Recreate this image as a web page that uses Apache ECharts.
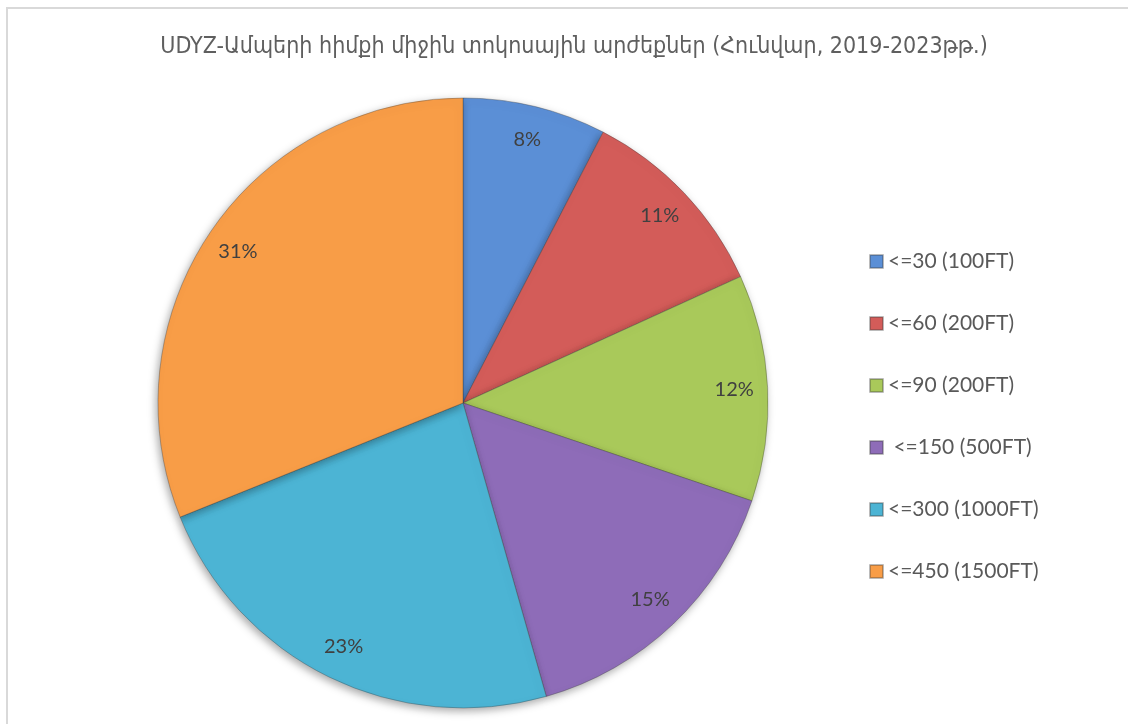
<!DOCTYPE html>
<html>
<head>
<meta charset="utf-8">
<script src="https://cdn.jsdelivr.net/npm/echarts@6/dist/echarts.min.js"></script>
<style>
  html, body { margin: 0; padding: 0; background: #fff; }
  #frame { position: absolute; left: 6px; top: 7px; width: 1200px; height: 800px;
           border-left: 2px solid #d9d9d9; border-top: 2px solid #d9d9d9; }
  #main { position: absolute; left: 0; top: 0; width: 1128px; height: 724px; }
</style>
</head>
<body>
<div id="frame"></div>
<div id="main"></div>
<script>
// կատեգորիաներ և արժեքներ (մոտավոր, ըստ սեկտորների անկյունների)
var categories = ['<=30 (100FT)', '<=60 (200FT)', '<=90 (200FT)', ' <=150 (500FT)', '<=300 (1000FT)', '<=450 (1500FT)'];
var shares = [7.6, 10.6, 12.0, 15.4, 23.3, 31.1];
var colors = ['#5b8fd6', '#d35c59', '#a9c95a', '#8e6cb8', '#4cb4d4', '#f89d47'];

var titleText = 'UDYZ-Ամպերի հիմքի միջին տոկոսային արժեքներ (Հունվար, 2019-2023թթ.)';

var pieData = categories.map(function (name, i) {
  return { name: name, value: shares[i], itemStyle: { color: colors[i] } };
});

var myChart = echarts.init(document.getElementById('main'));

myChart.setOption({
  animation: false,
  title: {
    text: titleText,
    left: 569,
    top: 31,
    textAlign: 'center',
    textStyle: { fontFamily: 'DejaVu Sans Condensed', fontWeight: 'normal', fontSize: 23, color: '#5f5f5f' }
  },
  legend: {
    orient: 'vertical',
    left: 864,
    top: 246,
    itemWidth: 13,
    itemHeight: 13,
    itemGap: 41,
    icon: 'rect',
    textStyle: { fontFamily: 'Lato', fontSize: 21, color: '#595959' },
    data: categories
  },
  series: [
    {
      type: 'pie',
      center: [463, 403],
      radius: [0, 305],
      startAngle: 90,
      clockwise: true,
      silent: true,
      label: { show: false },
      labelLine: { show: false },
      itemStyle: {
        borderColor: 'rgba(60,60,60,0.35)',
        borderWidth: 1,
        shadowColor: 'rgba(0,0,0,0.35)',
        shadowBlur: 8,
        shadowOffsetX: -2,
        shadowOffsetY: 3
      },
      data: pieData
    },
    {
      // միայն պիտակներ, շառավղի ~0.88-ում
      type: 'pie',
      center: [463, 403],
      radius: [232, 305],
      startAngle: 90,
      clockwise: true,
      silent: true,
      percentPrecision: 0,
      itemStyle: { color: 'rgba(0,0,0,0)' },
      label: {
        show: true,
        position: 'inside',
        formatter: '{d}%',
        fontFamily: 'Lato',
        fontSize: 20,
        color: '#404040'
      },
      labelLine: { show: false },
      data: categories.map(function (name, i) {
        return { name: name, value: shares[i] };
      })
    }
  ]
});
</script>
</body>
</html>
